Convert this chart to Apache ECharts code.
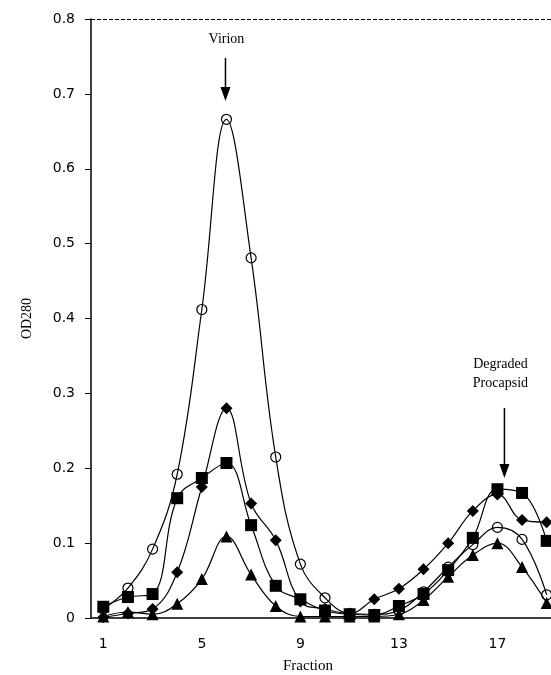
<!DOCTYPE html>
<html>
<head>
<meta charset="utf-8">
<script src="https://cdn.jsdelivr.net/npm/echarts@6/dist/echarts.min.js"></script>
<style>
  html, body { margin: 0; padding: 0; background: #fff; overflow: hidden; }
  /* plot runs past the right edge of the window, like the cropped figure */
  #chart { width: 565px; height: 675px; }
</style>
</head>
<body>
<div id="chart"></div>
<script>
// fractions 1..19
const fractions = ['1','2','3','4','5','6','7','8','9','10','11','12','13','14','15','16','17','18','19']
const yTicks = [0, 0.1, 0.2, 0.3, 0.4, 0.5, 0.6, 0.7, 0.8]

// OD280, one array per marker type
const circleData = [0.012, 0.04, 0.092, 0.192, 0.412, 0.666, 0.481, 0.215, 0.072, 0.027, 0.006, 0.005, 0.01, 0.035, 0.068, 0.098, 0.121, 0.105, 0.031]
const diamondData = [0.001, 0.006, 0.012, 0.061, 0.175, 0.28, 0.153, 0.104, 0.022, 0.012, 0.006, 0.025, 0.039, 0.065, 0.1, 0.143, 0.165, 0.131, 0.128]
const squareData = [0.015, 0.028, 0.032, 0.16, 0.187, 0.207, 0.124, 0.043, 0.025, 0.01, 0.005, 0.004, 0.016, 0.032, 0.064, 0.107, 0.172, 0.167, 0.103]
const triangleData = [0.002, 0.008, 0.005, 0.019, 0.052, 0.109, 0.058, 0.016, 0.002, 0.002, 0.002, 0.002, 0.005, 0.024, 0.055, 0.084, 0.1, 0.068, 0.02]

let myChart = echarts.init(document.getElementById('chart'))

function line(name, data, symbol, size, hollow) {
  return {
    name: name,
    type: 'line',
    data: data,
    smooth: 0.4,
    symbol: symbol,
    symbolSize: size,
    showSymbol: true,
    lineStyle: { color: '#000', width: 1.2 },
    itemStyle: hollow
      ? { color: 'rgba(255,255,255,0)', borderColor: '#000', borderWidth: 1.2 }
      : { color: '#000', borderWidth: 0 },
    emphasis: { disabled: true },
    animation: false
  }
}

const series = [
  line('circle', circleData, 'circle', 10, true),
  line('triangle', triangleData, 'triangle', 12, false),
  line('diamond', diamondData, 'diamond', 12, false),
  line('square', squareData, 'rect', 12, false)
]
// dashed frame line along the top of the plot
series[0].markLine = {
  silent: true,
  symbol: 'none',
  label: { show: false },
  lineStyle: { color: '#000', type: 'dashed', width: 1 },
  data: [{ yAxis: 0.8 }]
}

myChart.setOption({
  animation: false,
  grid: { left: 91, top: 19, width: 468, height: 599 },
  xAxis: {
    type: 'category',
    data: fractions,
    boundaryGap: true,
    axisLine: { lineStyle: { color: '#000', width: 1.5 } },
    axisTick: { interval: 3, length: 5, lineStyle: { color: '#000' } },
    axisLabel: { interval: 3, color: '#000', fontFamily: 'DejaVu Sans', fontSize: 14, margin: 19 },
    splitLine: { show: false }
  },
  yAxis: {
    type: 'value',
    min: 0,
    max: 0.8,
    interval: 0.1,
    name: 'OD280',
    nameLocation: 'middle',
    nameGap: 57,
    nameTextStyle: { color: '#000', fontFamily: 'Liberation Serif', fontSize: 14 },
    axisLine: { show: true, lineStyle: { color: '#000', width: 1.5 } },
    axisTick: { show: true, length: 6, lineStyle: { color: '#000' } },
    axisLabel: {
      color: '#000', fontFamily: 'DejaVu Sans', fontSize: 14, margin: 16,
      formatter: v => (v === 0 ? '0' : v.toFixed(1))
    },
    splitLine: { show: false }
  },
  series: series
})

// annotations anchored to data positions
const pv = myChart.convertToPixel({ gridIndex: 0 }, [5, 0.7])
const p17 = myChart.convertToPixel({ gridIndex: 0 }, [16, 0])
const pTop = myChart.convertToPixel({ gridIndex: 0 }, [16, 0.8])

function arrow(x, y1, y2) {
  return [
    { type: 'line', shape: { x1: x, y1: y1, x2: x, y2: y2 - 12 }, style: { stroke: '#000', lineWidth: 1.5 } },
    { type: 'polygon', shape: { points: [[x - 5, y2 - 14], [x + 5, y2 - 14], [x, y2]] }, style: { fill: '#000' } }
  ]
}

myChart.setOption({
  graphic: [
    { type: 'text', x: pv[0], y: pTop[1] + 20, style: { text: 'Virion', font: '14px "Liberation Serif"', fill: '#000', align: 'center', verticalAlign: 'middle' } },
    ...arrow(pv[0] - 1, pTop[1] + 39, pTop[1] + 82),
    { type: 'text', x: p17[0] + 3, y: 374, style: { text: 'Degraded\nProcapsid', font: '14px "Liberation Serif"', fill: '#000', align: 'center', verticalAlign: 'middle', lineHeight: 19 } },
    ...arrow(p17[0] + 7, 408, 478),
    { type: 'text', x: 308, y: 666, style: { text: 'Fraction', font: '15px "Liberation Serif"', fill: '#000', align: 'center', verticalAlign: 'middle' } }
  ]
})

window.onresize = function () {
  myChart.resize()
}
</script>
</body>
</html>
